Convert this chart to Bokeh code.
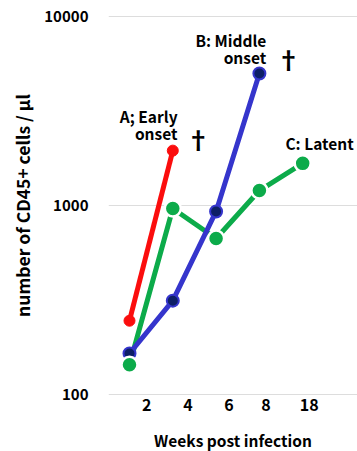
from bokeh.plotting import figure
from bokeh.models import Range1d, FixedTicker, Label, NumeralTickFormatter
from bokeh.embed import file_html
from bokeh.resources import INLINE

# ---- data ----
tick_pos = [1.4, 2.35, 3.3, 4.15, 5.15]
tick_labels = ["2", "4", "6", "8", "18"]
y_ticks = [100, 1000, 10000]

a_x = [1, 2]
a_y = [246, 1950]
b_x = [1, 2, 3, 4]
b_y = [165, 314, 930, 4990]
c_x = [1, 2, 3, 4, 5]
c_y = [144, 964, 669, 1200, 1670]

FONT = "Noto Sans CJK JP"
RED = "#fb0d0d"
BLUE = "#3535cc"
NAVY = "#0d1f66"
GREEN = "#0cab4a"

p = figure(frame_width=249, frame_height=380, y_axis_type="log",
           x_range=Range1d(0.515, 6.266), y_range=Range1d(99, 10100),
           output_backend="svg", toolbar_location=None,
           min_border_left=108, min_border_right=0,
           min_border_top=15, min_border_bottom=0)
p.outline_line_color = None
p.background_fill_color = "white"
p.border_fill_color = "white"

p.xgrid.grid_line_color = None
p.ygrid.grid_line_color = "#dddddd"
p.ygrid.grid_line_width = 1
p.ygrid.bounds = (0.515, 5.53)
p.yaxis.ticker = FixedTicker(ticks=y_ticks, minor_ticks=[])
p.yaxis.formatter = NumeralTickFormatter(format="0")
p.xaxis.ticker = FixedTicker(ticks=tick_pos)
p.xaxis.major_label_overrides = {t: l for t, l in zip(tick_pos, tick_labels)}

for ax in (p.xaxis[0], p.yaxis[0]):
    ax.axis_line_color = None
    ax.major_tick_line_color = None
    ax.minor_tick_line_color = None
    ax.major_tick_out = 0
    ax.major_tick_in = 0
    ax.major_label_text_font = FONT
    ax.major_label_text_font_style = "bold"
    ax.axis_label_text_font = FONT
    ax.axis_label_text_font_style = "bold"
    ax.major_label_text_color = "black"
    ax.axis_label_text_color = "black"
    ax.axis_label_text_line_height = 1.0

p.xaxis.major_label_text_font_size = "16px"
p.xaxis.major_label_standoff = 3
p.xaxis.axis_label = "Weeks post infection"
p.xaxis.axis_label_text_font_size = "15.5px"
p.xaxis.axis_label_standoff = 15

p.yaxis.major_label_text_font_size = "15px"
p.yaxis.major_label_standoff = 20
p.yaxis.axis_label = "number of CD45+ cells / μl"
p.yaxis.axis_label_text_font_size = "17.5px"
p.yaxis.axis_label_standoff = 6

# series A
p.line(a_x, a_y, line_color=RED, line_width=5)
p.scatter(a_x, a_y, size=11, fill_color=RED, line_color=RED, line_width=1)
# series C line (white casing)
p.line(c_x, c_y, line_color="white", line_width=8)
p.line(c_x, c_y, line_color=GREEN, line_width=5)
# series B
p.line(b_x, b_y, line_color=BLUE, line_width=5)
p.scatter(b_x, b_y, size=12, fill_color=NAVY, line_color=BLUE, line_width=2)
# series C markers
p.scatter(c_x, c_y, size=16, fill_color=GREEN, line_color="white", line_width=2.5)

# annotations
def lab(x, y, t, align="right", size="15.5px"):
    p.add_layout(Label(x=x, y=y, text=t, text_align=align, text_baseline="middle",
                       text_font=FONT, text_font_size=size, text_font_style="bold",
                       text_color="black"))

lab(2.11, 2958, "A; Early")
lab(2.11, 2404, "onset")
lab(2.59, 2261, "†", align="center", size="24px")
lab(4.16, 7464, "B: Middle")
lab(4.16, 6070, "onset")
lab(4.67, 5995, "†", align="center", size="24px")
lab(5.39, 2128, "C: Latent", align="center")

open("out.html", "w").write(file_html(p, INLINE))
